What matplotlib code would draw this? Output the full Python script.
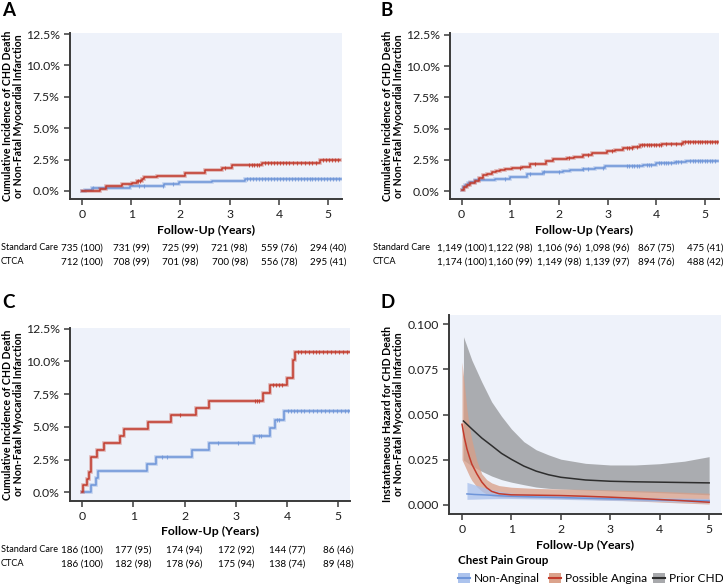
import matplotlib
matplotlib.use("Agg")
import matplotlib.pyplot as plt
from matplotlib.transforms import blended_transform_factory
from matplotlib.patches import Rectangle
from matplotlib.lines import Line2D

plt.rcParams['font.family'] = ['Lato', 'DejaVu Sans']

# ---------------- DATA ----------------
years = [0, 1, 2, 3, 4, 5]
yticks_pct = [0.0, 2.5, 5.0, 7.5, 10.0, 12.5]
yticks_haz = [0.000, 0.025, 0.050, 0.075, 0.100]

# Panel A
a_red_t = [0, 0.37, 0.49, 0.81, 1.01, 1.11, 1.21, 1.26, 1.53, 2.09, 2.5, 2.84, 3.04, 3.66, 4.84, 5.24]
a_red_y = [0, 0.18, 0.40, 0.53, 0.66, 0.80, 0.93, 1.09, 1.22, 1.47, 1.68, 1.85, 2.05, 2.22, 2.47, 2.47]
a_blue_t = [0, 0.07, 0.2, 0.98, 1.67, 1.96, 2.63, 3.31, 5.26]
a_blue_y = [0, 0.10, 0.27, 0.40, 0.53, 0.68, 0.83, 0.98, 0.98]
a_red_cens = [1.13, 1.17, 2.9, 3.4, 3.45, 3.5, 3.55, 3.6, 3.72, 3.78, 3.84, 3.9, 3.96, 4.02, 4.08, 4.14,
              4.2, 4.28, 4.36, 4.44, 4.52, 4.6, 4.68, 4.76, 4.9, 4.96, 5.02, 5.08, 5.14, 5.2]
a_blue_cens = [0.22, 1.15, 1.25, 1.65, 1.85, 3.36, 3.42, 3.48, 3.54, 3.6, 3.66, 3.72, 3.78, 3.84, 3.9, 3.96,
               4.02, 4.08, 4.14, 4.2, 4.26, 4.32, 4.38, 4.44, 4.5, 4.56, 4.62, 4.68, 4.74, 4.8, 4.86,
               4.92, 4.98, 5.04, 5.1, 5.16, 5.22]
a_sc = ["735 (100)", "731 (99)", "725 (99)", "721 (98)", "559 (76)", "294 (40)"]
a_ct = ["712 (100)", "708 (99)", "701 (98)", "700 (98)", "556 (78)", "295 (41)"]

# Panel B
b_red_t = [0, 0.05, 0.1, 0.17, 0.27, 0.35, 0.44, 0.53, 0.62, 0.7, 0.79, 0.9, 1.03, 1.23, 1.4, 1.73, 1.88,
           2.16, 2.3, 2.5, 2.67, 2.98, 3.15, 3.32, 3.53, 3.66, 4.11, 4.55, 5.27]
b_red_y = [0.08, 0.30, 0.50, 0.67, 0.83, 1.05, 1.28, 1.40, 1.50, 1.60, 1.68, 1.78, 1.87, 1.95, 2.16, 2.43,
           2.56, 2.62, 2.75, 2.88, 3.02, 3.23, 3.32, 3.42, 3.55, 3.69, 3.80, 3.90, 3.90]
b_blue_t = [0, 0.03, 0.07, 0.12, 0.17, 0.27, 0.68, 0.99, 1.34, 1.68, 2.09, 2.23, 2.5, 2.74, 2.95, 3.73, 4.0,
            4.38, 4.62, 5.27]
b_blue_y = [0.08, 0.30, 0.48, 0.62, 0.75, 0.88, 0.96, 1.15, 1.34, 1.50, 1.60, 1.68, 1.80, 1.87, 2.00, 2.08,
            2.22, 2.32, 2.42, 2.42]
b_red_cens = [1.2, 1.5, 2.2, 2.6, 3.1, 3.4, 3.45, 3.5, 3.6, 3.7, 3.75, 3.8, 3.85, 3.9, 3.95, 4.0, 4.05, 4.1,
              4.2, 4.3, 4.4, 4.5, 4.6, 4.65, 4.7, 4.75, 4.8, 4.85, 4.9, 4.95, 5.0, 5.05, 5.1, 5.15, 5.2, 5.25]
b_blue_cens = [0.9, 1.4, 1.7, 2.0, 2.5, 2.6, 2.9, 3.4, 3.45, 3.5, 3.55, 3.6, 3.65, 3.8, 3.85, 3.9, 4.05, 4.1,
               4.15, 4.2, 4.25, 4.3, 4.4, 4.45, 4.5, 4.7, 4.75, 4.8, 4.85, 4.9, 4.95, 5.0, 5.05, 5.1, 5.15, 5.2]
b_sc = ["1,149 (100)", "1,122 (98)", "1,106 (96)", "1,098 (96)", "867 (75)", "475 (41)"]
b_ct = ["1,174 (100)", "1,160 (99)", "1,149 (98)", "1,139 (97)", "894 (76)", "488 (42)"]

# Panel C
c_red_t = [0, 0.02, 0.09, 0.14, 0.17, 0.28, 0.42, 0.74, 0.82, 1.28, 1.74, 2.23, 2.48, 3.53, 3.66, 3.99,
           4.12, 4.16, 5.23]
c_red_y = [0, 0.52, 1.05, 1.58, 2.66, 3.22, 3.76, 4.30, 4.84, 5.38, 5.92, 6.46, 7.00, 7.60, 8.17, 8.76,
           10.10, 10.75, 10.75]
c_blue_t = [0, 0.17, 0.27, 0.31, 1.26, 1.44, 2.14, 2.47, 3.36, 3.66, 3.76, 3.95, 5.23]
c_blue_y = [0, 0.54, 1.08, 1.62, 2.16, 2.70, 3.24, 3.78, 4.32, 4.90, 5.50, 6.20, 6.20]
c_red_cens = [1.9, 3.38, 3.42, 3.46, 3.72, 3.78, 3.84, 3.9, 4.22, 4.28, 4.36, 4.42, 4.5, 4.56, 4.62, 4.7,
              4.78, 4.86, 4.94, 5.02, 5.1, 5.18]
c_blue_cens = [1.55, 1.65, 2.65, 3.05, 3.45, 3.5, 3.8, 3.85, 4.02, 4.08, 4.14, 4.2, 4.28, 4.34, 4.42, 4.5,
               4.58, 4.66, 4.74, 4.82, 4.9, 4.98, 5.06, 5.14, 5.2]
c_sc = ["186 (100)", "177 (95)", "174 (94)", "172 (92)", "144 (77)", "86 (46)"]
c_ct = ["186 (100)", "182 (98)", "178 (96)", "175 (94)", "138 (74)", "89 (48)"]

# Panel D (instantaneous hazard)
d_prior_t = [0.03, 0.2, 0.4, 0.6, 0.8, 1.0, 1.25, 1.5, 1.75, 2.0, 2.5, 3.0, 3.5, 4.0, 4.5, 5.0]
d_prior = [0.0464, 0.0420, 0.0370, 0.0328, 0.0285, 0.0252, 0.0215, 0.0187, 0.0167, 0.0153, 0.0138,
           0.0131, 0.0128, 0.0126, 0.0124, 0.0122]
d_prior_hi = [0.093, 0.080, 0.068, 0.057, 0.049, 0.0420, 0.0350, 0.0305, 0.0277, 0.0253, 0.0230,
              0.0221, 0.0221, 0.0228, 0.0242, 0.0267]
d_prior_lo = [0.0249, 0.0215, 0.0186, 0.0160, 0.0140, 0.0126, 0.0112, 0.0099, 0.0092, 0.0088, 0.0083,
              0.0078, 0.0073, 0.0068, 0.0062, 0.0056]

d_poss_t = [0.0, 0.05, 0.1, 0.15, 0.2, 0.3, 0.4, 0.5, 0.6, 0.75, 1.0, 1.5, 2.0, 2.5, 3.0, 3.5, 4.0, 4.5, 5.0]
d_poss = [0.0446, 0.0370, 0.0310, 0.0265, 0.0225, 0.0172, 0.0127, 0.0095, 0.0075, 0.0062, 0.0056, 0.0054,
          0.0052, 0.0048, 0.0043, 0.0037, 0.0030, 0.0023, 0.0015]
d_poss_hi = [0.079, 0.066, 0.053, 0.043, 0.036, 0.0245, 0.0172, 0.0140, 0.0122, 0.0107, 0.0098, 0.0091,
             0.0088, 0.0086, 0.0083, 0.0079, 0.0075, 0.0070, 0.0065]
d_poss_lo = [0.025, 0.022, 0.019, 0.016, 0.0135, 0.0100, 0.0076, 0.0060, 0.0050, 0.0043, 0.0040, 0.0038,
             0.0035, 0.0031, 0.0027, 0.0022, 0.0016, 0.0010, 0.0005]

d_non_t = [0.1, 0.25, 0.5, 0.75, 1.0, 1.5, 2.0, 2.5, 3.0, 3.5, 4.0, 4.5, 5.0]
d_non = [0.0061, 0.0058, 0.0055, 0.0051, 0.0048, 0.0044, 0.0041, 0.0037, 0.0034, 0.0031, 0.0028, 0.0025, 0.0022]
d_non_hi = [0.0125, 0.0112, 0.0092, 0.0076, 0.0065, 0.0057, 0.0052, 0.0048, 0.0045, 0.0042, 0.0040, 0.0038, 0.0036]
d_non_lo = [0.0031, 0.0032, 0.0034, 0.0035, 0.0035, 0.0033, 0.0031, 0.0028, 0.0025, 0.0022, 0.0019, 0.0015, 0.0011]

legend_labels = ["Non-Anginal", "Possible Angina", "Prior CHD"]

# ---------------- STYLE ----------------
W, H = 723, 584
BG = "#EEF2FA"
RED = "#C23B2C"
BLUE = "#6E95D9"
SPINE = "#3a3a3a"
GRAY_BAND = "#A3A5A8"
GRAY_LINE = "#2E2E2E"
ORANGE_BAND = "#D99E86"
BLUE_BAND = "#A8C0EC"
TICK_FS = 8.8
TAB_FS = 7.1
TABLAB_FS = 6.6
LAB_FS = 7.6
XLAB_FS = 8.8

fig = plt.figure(figsize=(W / 100, H / 100), dpi=100)


def px_axes(l, t, r, b):
    return fig.add_axes([l / W, 1 - b / H, (r - l) / W, (b - t) / H])


def style(ax):
    ax.set_facecolor(BG)
    for s in ["top", "right"]:
        ax.spines[s].set_visible(False)
    for s in ["left", "bottom"]:
        ax.spines[s].set_color(SPINE)
        ax.spines[s].set_linewidth(1.4)
    ax.tick_params(axis="both", colors=SPINE, labelcolor="#1e1e1e", labelsize=TICK_FS,
                   length=4, width=1.1, direction="out")


def km(ax, t, y, cens, color):
    ax.step(t, y, where="post", color=color, lw=2.6, alpha=0.35, solid_joinstyle="miter")
    ax.step(t, y, where="post", color=color, lw=1.1)
    cy = []
    for c in cens:
        v = y[0]
        for ti, yi in zip(t, y):
            if ti <= c:
                v = yi
        cy.append(v)
    ax.plot(cens, cy, linestyle="none", marker="|", color=color, markersize=3.5, mew=0.8, alpha=0.8)


def km_panel(ax, xlim, ylim, letter_xy, ylab_x, xlab_y, red, blue, sc, ct, tab_label_x, tab_y):
    style(ax)
    km(ax, *blue, BLUE)
    km(ax, *red, RED)
    ax.set_xlim(*xlim)
    ax.set_ylim(*ylim)
    ax.set_xticks(years)
    ax.set_yticks(yticks_pct)
    ax.set_yticklabels([f"{v:.1f}%" for v in yticks_pct])
    bb = ax.get_position()
    fig.text(letter_xy[0] / W, 1 - letter_xy[1] / H, letter_xy[2], fontsize=13.5, fontweight="bold",
             ha="left", va="center")
    fig.text(ylab_x / W, (bb.y0 + bb.y1) / 2,
             "Cumulative Incidence of CHD Death\nor Non-Fatal Myocardial Infarction",
             rotation=90, ha="center", va="center", fontsize=LAB_FS, fontweight="bold", linespacing=1.1)
    fig.text((bb.x0 + bb.x1) / 2, 1 - xlab_y / H, "Follow-Up (Years)", ha="center", va="center",
             fontsize=XLAB_FS, fontweight="bold")
    tr = blended_transform_factory(ax.transData, fig.transFigure)
    fig.text(tab_label_x / W, 1 - tab_y[0] / H, "Standard Care", ha="left", va="center", fontsize=TABLAB_FS)
    fig.text(tab_label_x / W, 1 - tab_y[1] / H, "CTCA", ha="left", va="center", fontsize=TABLAB_FS)
    for yr, s1, s2 in zip(years, sc, ct):
        ax.text(yr, 1 - tab_y[0] / H, s1, transform=tr, ha="center", va="center", fontsize=TAB_FS)
        ax.text(yr, 1 - tab_y[1] / H, s2, transform=tr, ha="center", va="center", fontsize=TAB_FS)


axA = px_axes(70, 33, 342, 199)
km_panel(axA, (-0.244, 5.28), (-0.64, 12.58), (2, 11, "A"), 13, 230,
         (a_red_t, a_red_y, a_red_cens), (a_blue_t, a_blue_y, a_blue_cens), a_sc, a_ct, 1, (248, 262))

axB = px_axes(450, 33, 719, 199)
km_panel(axB, (-0.24, 5.29), (-0.64, 12.66), (381, 11, "B"), 393, 230,
         (b_red_t, b_red_y, b_red_cens), (b_blue_t, b_blue_y, b_blue_cens), b_sc, b_ct, 373, (248, 262))

axC = px_axes(70, 328, 350, 501)
km_panel(axC, (-0.24, 5.23), (-0.67, 12.56), (2, 303, "C"), 13, 531,
         (c_red_t, c_red_y, c_red_cens), (c_blue_t, c_blue_y, c_blue_cens), c_sc, c_ct, 1, (550, 564))

# Panel D
axD = px_axes(449, 315, 721, 514)
style(axD)
axD.fill_between(d_prior_t, d_prior_lo, d_prior_hi, color=GRAY_BAND, alpha=0.9, lw=0)
axD.fill_between(d_poss_t, d_poss_lo, d_poss_hi, color=ORANGE_BAND, alpha=0.75, lw=0)
axD.fill_between(d_non_t, d_non_lo, d_non_hi, color=BLUE_BAND, alpha=0.75, lw=0)
axD.plot(d_prior_t, d_prior, color=GRAY_LINE, lw=1.1)
axD.plot(d_non_t, d_non, color=BLUE, lw=1.1)
axD.plot(d_poss_t, d_poss, color=RED, lw=1.1)
axD.set_xlim(-0.263, 5.24)
axD.set_ylim(-0.005, 0.105)
axD.set_xticks(years)
axD.set_yticks(yticks_haz)
axD.set_yticklabels([f"{v:.3f}" for v in yticks_haz])
bb = axD.get_position()
fig.text(381 / W, 1 - 303 / H, "D", fontsize=13.5, fontweight="bold", ha="left", va="center")
fig.text(393 / W, (bb.y0 + bb.y1) / 2,
         "Instantaneous Hazard for CHD Death\nor Non-Fatal Myocardial Infarction",
         rotation=90, ha="center", va="center", fontsize=LAB_FS, fontweight="bold", linespacing=1.1)
fig.text((bb.x0 + bb.x1) / 2, 1 - 545 / H, "Follow-Up (Years)", ha="center", va="center",
         fontsize=XLAB_FS, fontweight="bold")

# Legend (manual placement in pixel coordinates)
fig.text(458 / W, 1 - 560 / H, "Chest Pain Group", ha="left", va="center", fontsize=8.3, fontweight="bold")
leg_band = [BLUE_BAND, ORANGE_BAND, GRAY_BAND]
leg_line = [BLUE, RED, GRAY_LINE]
leg_px = [458, 549, 653]
ly = 578
for x0, bc, lc, lab in zip(leg_px, leg_band, leg_line, legend_labels):
    fig.patches.append(Rectangle((x0 / W, 1 - (ly + 5) / H), 12 / W, 10 / H, transform=fig.transFigure,
                                 facecolor=bc, edgecolor="none", alpha=0.95))
    fig.lines.append(Line2D([x0 / W, (x0 + 12) / W], [1 - ly / H, 1 - ly / H], transform=fig.transFigure,
                            color=lc, lw=1.5))
    fig.text((x0 + 16) / W, 1 - ly / H, lab, ha="left", va="center", fontsize=8.6)

fig.savefig("out.png", dpi=100, facecolor="white")
